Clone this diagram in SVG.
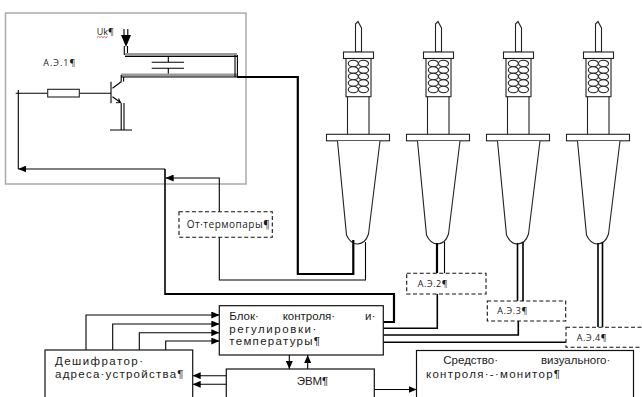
<svg xmlns="http://www.w3.org/2000/svg" width="642" height="397" viewBox="0 0 642 397">
  <style>
    .thin { stroke:#000; stroke-width:1.1; fill:none; }
    .mid { stroke:#000; stroke-width:1.6; fill:none; }
    .thick { stroke:#000; stroke-width:2.2; fill:none; }
    .box { stroke:#111; stroke-width:1.2; fill:#fff; }
    .dash { stroke:#111; stroke-width:1.1; stroke-dasharray:4 2.5; fill:#fff; }
    .part { stroke:#222; stroke-width:1.1; fill:#fff; }
    .txt { font-family:"Open Sans","Noto Sans",sans-serif; fill:#1a1a1a; }
    .big { font-family:"Liberation Sans","Noto Sans",sans-serif; font-size:11.5px; }
    .small { font-size:9px; }
    .note { font-size:10px; }
  </style>
  <defs>
    <marker id="arr" markerUnits="userSpaceOnUse" markerWidth="8" markerHeight="7" refX="8" refY="3.5" orient="auto">
      <path d="M0,0 L8,3.5 L0,7 Z" fill="#000"/>
    </marker>
    <!-- soldering iron, drawn around its axis x=0 -->
    <g id="iron">
      <path class="part" d="M-3,52 V24 L-0.5,21.5 L3,28 V52 Z"/>
      <rect class="part" x="-15" y="52" width="30" height="6.5"/>
      <rect class="part" x="-12.5" y="58.5" width="25" height="38.2" stroke-width="1.4"/>
      <g class="part" stroke-width="0.9">
        <ellipse cx="-5.2" cy="63.5" rx="5" ry="3.2"/><ellipse cx="5" cy="63.5" rx="5" ry="3.2"/>
        <ellipse cx="-5.2" cy="70" rx="5" ry="3.2"/><ellipse cx="5" cy="70" rx="5" ry="3.2"/>
        <ellipse cx="-5.2" cy="76.5" rx="5" ry="3.2"/><ellipse cx="5" cy="76.5" rx="5" ry="3.2"/>
        <ellipse cx="-5.2" cy="83" rx="5" ry="3.2"/><ellipse cx="5" cy="83" rx="5" ry="3.2"/>
        <ellipse cx="-5.2" cy="89.5" rx="5" ry="3.2"/><ellipse cx="5" cy="89.5" rx="5" ry="3.2"/>
      </g>
      <path class="part" d="M-11,96.7 V134.3 M10.5,96.7 V134.3"/>
      <rect class="part" x="-32" y="134.3" width="63" height="6.5"/>
      <path class="part" d="M-21,141 L-12,235 Q-8,244 -1,244 Q7,243.5 10,234 L21.5,141"/>
    </g>
  </defs>

  <!-- А.Э.1 frame -->
  <g id="ae1">
    <rect x="5.5" y="13" width="240.5" height="171" fill="none" stroke="#aaa" stroke-width="1.5"/>
    <text class="txt small" x="43.3" y="65.5" textLength="32">А.Э.1¶</text>
    <text class="txt small" x="96.7" y="35" fill="#3a2a3a">Uk¶</text>
    <path d="M97,37.5 l1.5,-1 l1.5,1 l1.5,-1 l1.5,1 l1.5,-1 l1.5,1 l1.5,-1" stroke="#e03030" stroke-width="0.8" fill="none"/>
    <!-- supply input -->
    <path class="thin" d="M124,29 V36 M127.8,29 V36 M124.3,46 V55 M127.5,46 V55"/>
    <path d="M121,35 H131 L126,47 Z" fill="#000"/>
    <!-- upper rail -->
    <path d="M125,54.5 H237" stroke="#999" stroke-width="3"/>
    <path d="M125,56.5 H237" stroke="#000" stroke-width="1.2"/>
    <!-- capacitor -->
    <path class="thin" d="M168.3,56 V62.3 M151.7,62.3 H184 M151.7,68.3 H184 M168.3,68.3 V75"/>
    <!-- lower rail -->
    <path d="M121,75 H237" stroke="#999" stroke-width="3"/>
    <path d="M121,77 H237" stroke="#000" stroke-width="1.2"/>
    <path class="thin" d="M235,55 V77 M237.4,55 V77.5" stroke-width="1.3"/>
    <!-- transistor -->
    <path class="thin" d="M111,81.7 V103.3" stroke-width="1.5"/>
    <path class="thin" d="M112.5,88.3 L121.5,81.5 M121.2,81.5 V75 M123.6,81.5 V77"/>
    <path class="thin" d="M112.5,96.7 L120.5,102.5 M116,102.8 L120.5,102.5 L118.5,98.6"/>
    <path class="thin" d="M121.2,103 V130 M124,103 V130 M110,130 H132"/>
    <!-- base resistor -->
    <path class="thin" d="M15.7,93.3 H47.7 M79.3,93.3 H111"/>
    <rect class="part" x="47.7" y="89.3" width="31.6" height="7.7"/>
    <path class="thin" d="M18.3,90 V169"/>
  </g>

  <!-- soldering irons -->
  <g id="iron1"><use href="#iron" x="358.5"/></g>
  <g id="iron2"><use href="#iron" x="438.5"/></g>
  <g id="iron3"><use href="#iron" x="518.5"/></g>
  <g id="iron4"><use href="#iron" x="598.5"/></g>

  <!-- connectors -->
  <g id="connectors">
    <!-- heater supply of iron 1 -->
    <path class="thick" d="M353.3,240 V274 H297.8 V77 H237"/>
    <!-- thermocouple of iron 1 -->
    <path class="thin" d="M365.5,242 V280 H219.3 V237"/>
    <path class="thin" d="M219.3,211.7 V178 H165.7" marker-end="url(#arr)"/>
    <!-- control loop to А.Э.1 -->
    <path class="thick" d="M383.3,322 H394 V294 H165"/>
    <path class="mid" d="M165,295 V169"/>
    <path class="thin" d="M165,169 H18.3" marker-end="url(#arr)"/>
    <!-- iron wires -->
    <path class="thick" d="M437,243 V273.3" stroke-width="2"/>
    <path class="thin" d="M444.5,242 V273.3"/>
    <path class="mid" d="M517.5,243 V301 M523,242 V301"/>
    <path class="mid" d="M598,243 V327.3 M602.5,242 V327.3"/>
    <!-- control outputs -->
    <path class="mid" d="M383.3,328.3 H437.3 V294" stroke-width="1.9"/>
    <path class="mid" d="M383.3,335 H518.3 V321" stroke-width="1.9"/>
    <path class="mid" d="M383.3,342.3 H566" stroke-width="1.9"/>
    <!-- address lines -->
    <path class="thin" d="M86,350 V315 H219.3" marker-end="url(#arr)"/>
    <path class="thin" d="M112.7,350 V324 H219.3" marker-end="url(#arr)"/>
    <path class="thin" d="M139.3,350 V332.7 H219.3" marker-end="url(#arr)"/>
    <path class="thin" d="M165.7,350 V341 H219.3" marker-end="url(#arr)"/>
    <path class="thin" d="M226.3,375.7 H192.7" marker-end="url(#arr)"/>
    <path class="thin" d="M226.3,384.3 H192.7" marker-end="url(#arr)"/>
    <path class="thin" d="M289.3,355 V369" marker-end="url(#arr)"/>
    <path class="thin" d="M307.7,369 V355" marker-end="url(#arr)"/>
    <path class="thin" d="M374.3,389.5 H416.5" marker-end="url(#arr)"/>
  </g>

  <g id="thermocouple">
    <rect class="dash" x="179" y="211.7" width="93.3" height="25.6"/>
    <text class="txt note" x="186.7" y="227.5" textLength="83">От·термопары¶</text>
  </g>
  <g id="ae2">
    <rect class="dash" x="406.7" y="273.3" width="79.3" height="20.7"/>
    <text class="txt small" x="417.7" y="287" textLength="30">А.Э.2¶</text>
  </g>
  <g id="ae3">
    <rect class="dash" x="487.3" y="301" width="78.4" height="20"/>
    <text class="txt small" x="497.3" y="314" textLength="30">А.Э.3¶</text>
  </g>
  <g id="ae4">
    <rect class="dash" x="566" y="327.3" width="82" height="20"/>
    <text class="txt small" x="576.7" y="340.5" textLength="30">А.Э.4¶</text>
  </g>

  <g id="control-block">
    <rect class="box" x="219.3" y="305.7" width="164" height="49.3"/>
    <text class="txt big" y="319.5"><tspan x="229.3">Блок·</tspan><tspan x="282.7">контроля·</tspan><tspan x="365">и·</tspan></text>
    <text class="txt big" x="229.3" y="332.5" textLength="87">регулировки·</text>
    <text class="txt big" x="229.3" y="345" textLength="90.7">температуры¶</text>
  </g>
  <g id="decoder">
    <rect class="box" x="45" y="350" width="147.7" height="60"/>
    <text class="txt big" x="55" y="365" textLength="88">Дешифратор·</text>
    <text class="txt big" x="55" y="377.5" textLength="128.5">адреса·устройства¶</text>
  </g>
  <g id="computer">
    <rect class="box" x="226.3" y="369" width="148" height="40"/>
    <text class="txt big" x="296.7" y="384.5" textLength="31.5">ЭВМ¶</text>
  </g>
  <g id="monitor">
    <rect class="box" x="416.5" y="350.5" width="217" height="60"/>
    <text class="txt big" y="363.5"><tspan x="443.3">Средство·</tspan><tspan x="541">визуального·</tspan></text>
    <text class="txt big" x="426" y="377.5" textLength="134">контроля·-·монитор¶</text>
  </g>
</svg>
